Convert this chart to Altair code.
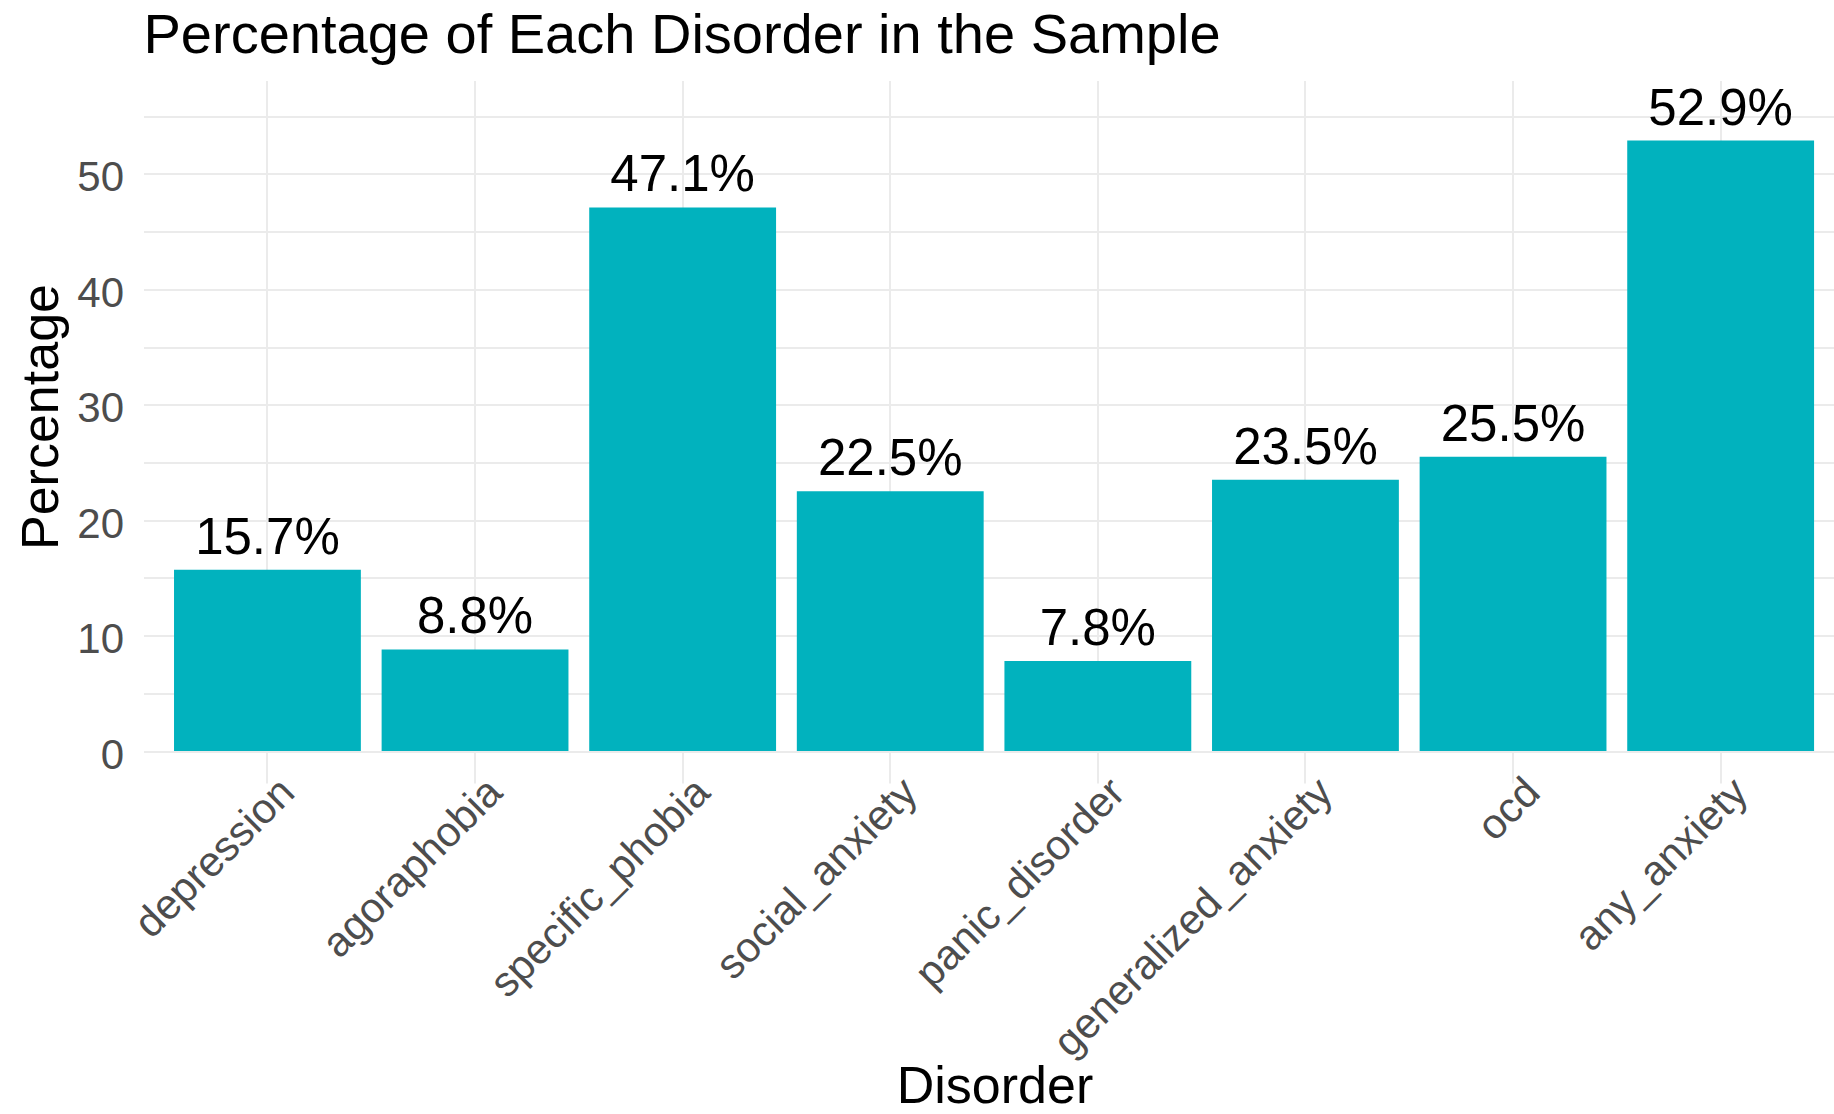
import altair as alt
import pandas as pd

# Share of each disorder in the sample (percent)
disorders = [
    "depression", "agoraphobia", "specific_phobia", "social_anxiety",
    "panic_disorder", "generalized_anxiety", "ocd", "any_anxiety",
]
percentages = [15.7, 8.8, 47.1, 22.5, 7.8, 23.5, 25.5, 52.9]
y_grid_values = [0, 5, 10, 15, 20, 25, 30, 35, 40, 45, 50, 55]

df = pd.DataFrame({"Disorder": disorders, "Percentage": percentages})
df["label"] = [f"{p:.1f}%" for p in percentages]

FONT = "Liberation Sans"
BAR_COLOR = "#01B2BE"
GRID = "#EBEBEB"
PLOT_W = 1690.5
PLOT_H = 702.5

x_enc = alt.X(
    "Disorder:N",
    sort=disorders,
    scale=alt.Scale(paddingInner=0.1, paddingOuter=0.1215, align=0.605),
    axis=alt.Axis(
        title="Disorder",
        labelAngle=-45,
        labelAlign="right",
        labelBaseline="top",
        labelFont=FONT,
        labelFontSize=42,
        labelColor="#4D4D4D",
        labelPadding=-12,
        labelOffset=6,
        labelLimit=1000,
        labelOverlap=False,
        ticks=False,
        tickSize=0,
        domain=False,
        grid=True,
        gridColor=GRID,
        gridWidth=2,
        bandPosition=0.5,
        titleFont=FONT,
        titleFontSize=52,
        titleFontWeight="normal",
        titleColor="black",
        titleX=851,
        titleY=319,
        titleAlign="center",
        titleBaseline="alphabetic",
    ),
)

y_enc = alt.Y(
    "Percentage:Q",
    scale=alt.Scale(domain=[-2.77, 58.1], nice=False, zero=False),
    axis=alt.Axis(
        title="Percentage",
        values=y_grid_values,
        labelExpr="datum.value % 10 === 0 ? datum.label : ''",
        labelFont=FONT,
        labelFontSize=42,
        labelColor="#4D4D4D",
        labelPadding=20,
        labelBaseline="middle",
        labelOffset=4,
        ticks=False,
        tickSize=0,
        domain=False,
        grid=True,
        gridColor=GRID,
        gridWidth=2,
        titleFont=FONT,
        titleFontSize=52,
        titleFontWeight="normal",
        titleColor="black",
        titleAngle=270,
        titleX=-86,
        titleY=336,
        titleAlign="center",
        titleBaseline="alphabetic",
    ),
)

bars = alt.Chart(df).mark_bar(color=BAR_COLOR).encode(
    x=x_enc,
    y=y_enc,
    y2=alt.datum(0),
)

labels = alt.Chart(df).mark_text(
    font=FONT,
    fontSize=51,
    color="black",
    baseline="alphabetic",
    dy=-16,
).encode(
    x=alt.X("Disorder:N", sort=disorders),
    y=alt.Y("Percentage:Q"),
    text="label:N",
)

chart = (
    alt.layer(bars, labels)
    .properties(
        width=PLOT_W,
        height=PLOT_H,
        title=alt.Title(
            "Percentage of Each Disorder in the Sample",
            anchor="start",
            frame="group",
            font=FONT,
            fontSize=56,
            fontWeight="normal",
            color="black",
            offset=16,
        ),
        autosize=alt.AutoSizeParams(type="none"),
        padding={"left": 143.5, "top": 80.5, "right": 0, "bottom": 331},
        background="white",
    )
    .configure_view(stroke=None)
)

chart.save("out.html", embed_options={"renderer": "svg", "actions": False})
